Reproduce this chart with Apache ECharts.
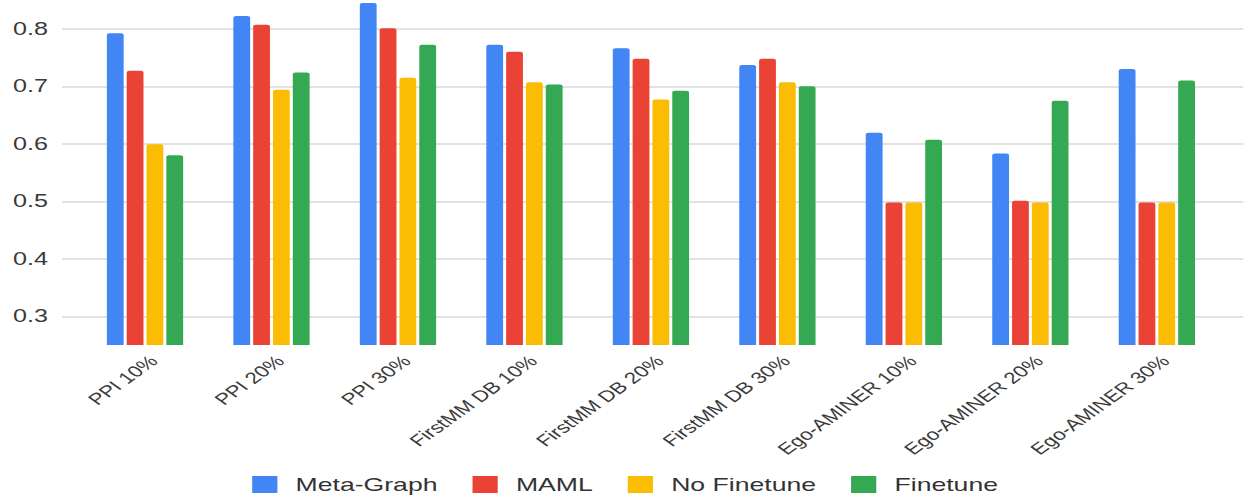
<!DOCTYPE html>
<html>
<head>
<meta charset="utf-8">
<script src="https://cdn.jsdelivr.net/npm/echarts@6/dist/echarts.min.js"></script>
<style>
  html, body { margin: 0; padding: 0; background: #fff; overflow: hidden; }
  #wrap { width: 1250px; height: 500px; overflow: hidden; }
  #chart { width: 893px; height: 500px; transform: scaleX(1.4); transform-origin: 0 0; }
</style>
</head>
<body>
<div id="wrap"><div id="chart"></div></div>
<script>
const categories = ['PPI 10%', 'PPI 20%', 'PPI 30%', 'FirstMM DB 10%', 'FirstMM DB 20%', 'FirstMM DB 30%', 'Ego-AMINER 10%', 'Ego-AMINER 20%', 'Ego-AMINER 30%'];
const seriesNames = ['Meta-Graph', 'MAML', 'No Finetune', 'Finetune'];
const metaGraph  = [0.792, 0.822, 0.845, 0.772, 0.766, 0.737, 0.619, 0.583, 0.730];
const maml       = [0.727, 0.807, 0.801, 0.760, 0.748, 0.748, 0.498, 0.501, 0.498];
const noFinetune = [0.599, 0.694, 0.715, 0.707, 0.677, 0.707, 0.498, 0.498, 0.498];
const finetune   = [0.580, 0.724, 0.772, 0.703, 0.692, 0.700, 0.607, 0.675, 0.710];
const colors = ['#4285F4', '#EA4335', '#FBBC04', '#34A853'];
const yMin = 0.25, yMax = 0.85;

const chart = echarts.init(document.getElementById('chart'), null, { renderer: 'svg' });
const font = '"Liberation Sans", Arial, sans-serif';
const allData = [metaGraph, maml, noFinetune, finetune];

chart.setOption({
  animation: false,
  color: colors,
  textStyle: { fontFamily: font },
  grid: [
    { left: 44.3, right: 5, top: 0, bottom: 155 },
    { left: 58.4, right: 21.5, top: 0, bottom: 155 },
    { left: 64.4, right: 15.5, top: 0, bottom: 155 }
  ],
  legend: {
    data: seriesNames,
    bottom: 1,
    left: 'center',
    itemWidth: 18,
    itemHeight: 17,
    itemGap: 25,
    icon: 'rect',
    textStyle: { fontSize: 19, color: '#333', fontFamily: font, padding: [0, 0, 0, 8] }
  },
  xAxis: [
    { gridIndex: 0, type: 'value', show: false, min: 0, max: 1 },
    {
      gridIndex: 1, type: 'category', data: categories,
      axisLine: { show: false }, axisTick: { show: false }, axisLabel: { show: false }
    },
    {
      gridIndex: 2, type: 'category', data: categories,
      axisLine: { show: false }, axisTick: { show: false },
      axisLabel: { rotate: 45, fontSize: 16, color: '#3a3a3a', margin: 13, interval: 0, fontFamily: font }
    }
  ],
  yAxis: [
    {
      gridIndex: 0, type: 'value', min: yMin, max: yMax, splitNumber: 6,
      axisLine: { show: false }, axisTick: { show: false },
      axisLabel: { fontSize: 18, color: '#3a3a3a', margin: 10, showMinLabel: false, showMaxLabel: false, fontFamily: font },
      splitLine: { show: true, showMinLine: false, showMaxLine: false, lineStyle: { color: '#d9d9d9', width: 1.5 } }
    },
    { gridIndex: 1, type: 'value', min: yMin, max: yMax, show: false, splitLine: { show: false } },
    { gridIndex: 2, type: 'value', min: yMin, max: yMax, show: false, splitLine: { show: false } }
  ],
  series: seriesNames.map((name, i) => ({
    name,
    type: 'bar',
    xAxisIndex: 1,
    yAxisIndex: 1,
    data: allData[i],
    barWidth: 12,
    barGap: '18%',
    itemStyle: { color: colors[i], borderRadius: [2, 2, 0, 0] }
  }))
});
</script>
</body>
</html>
